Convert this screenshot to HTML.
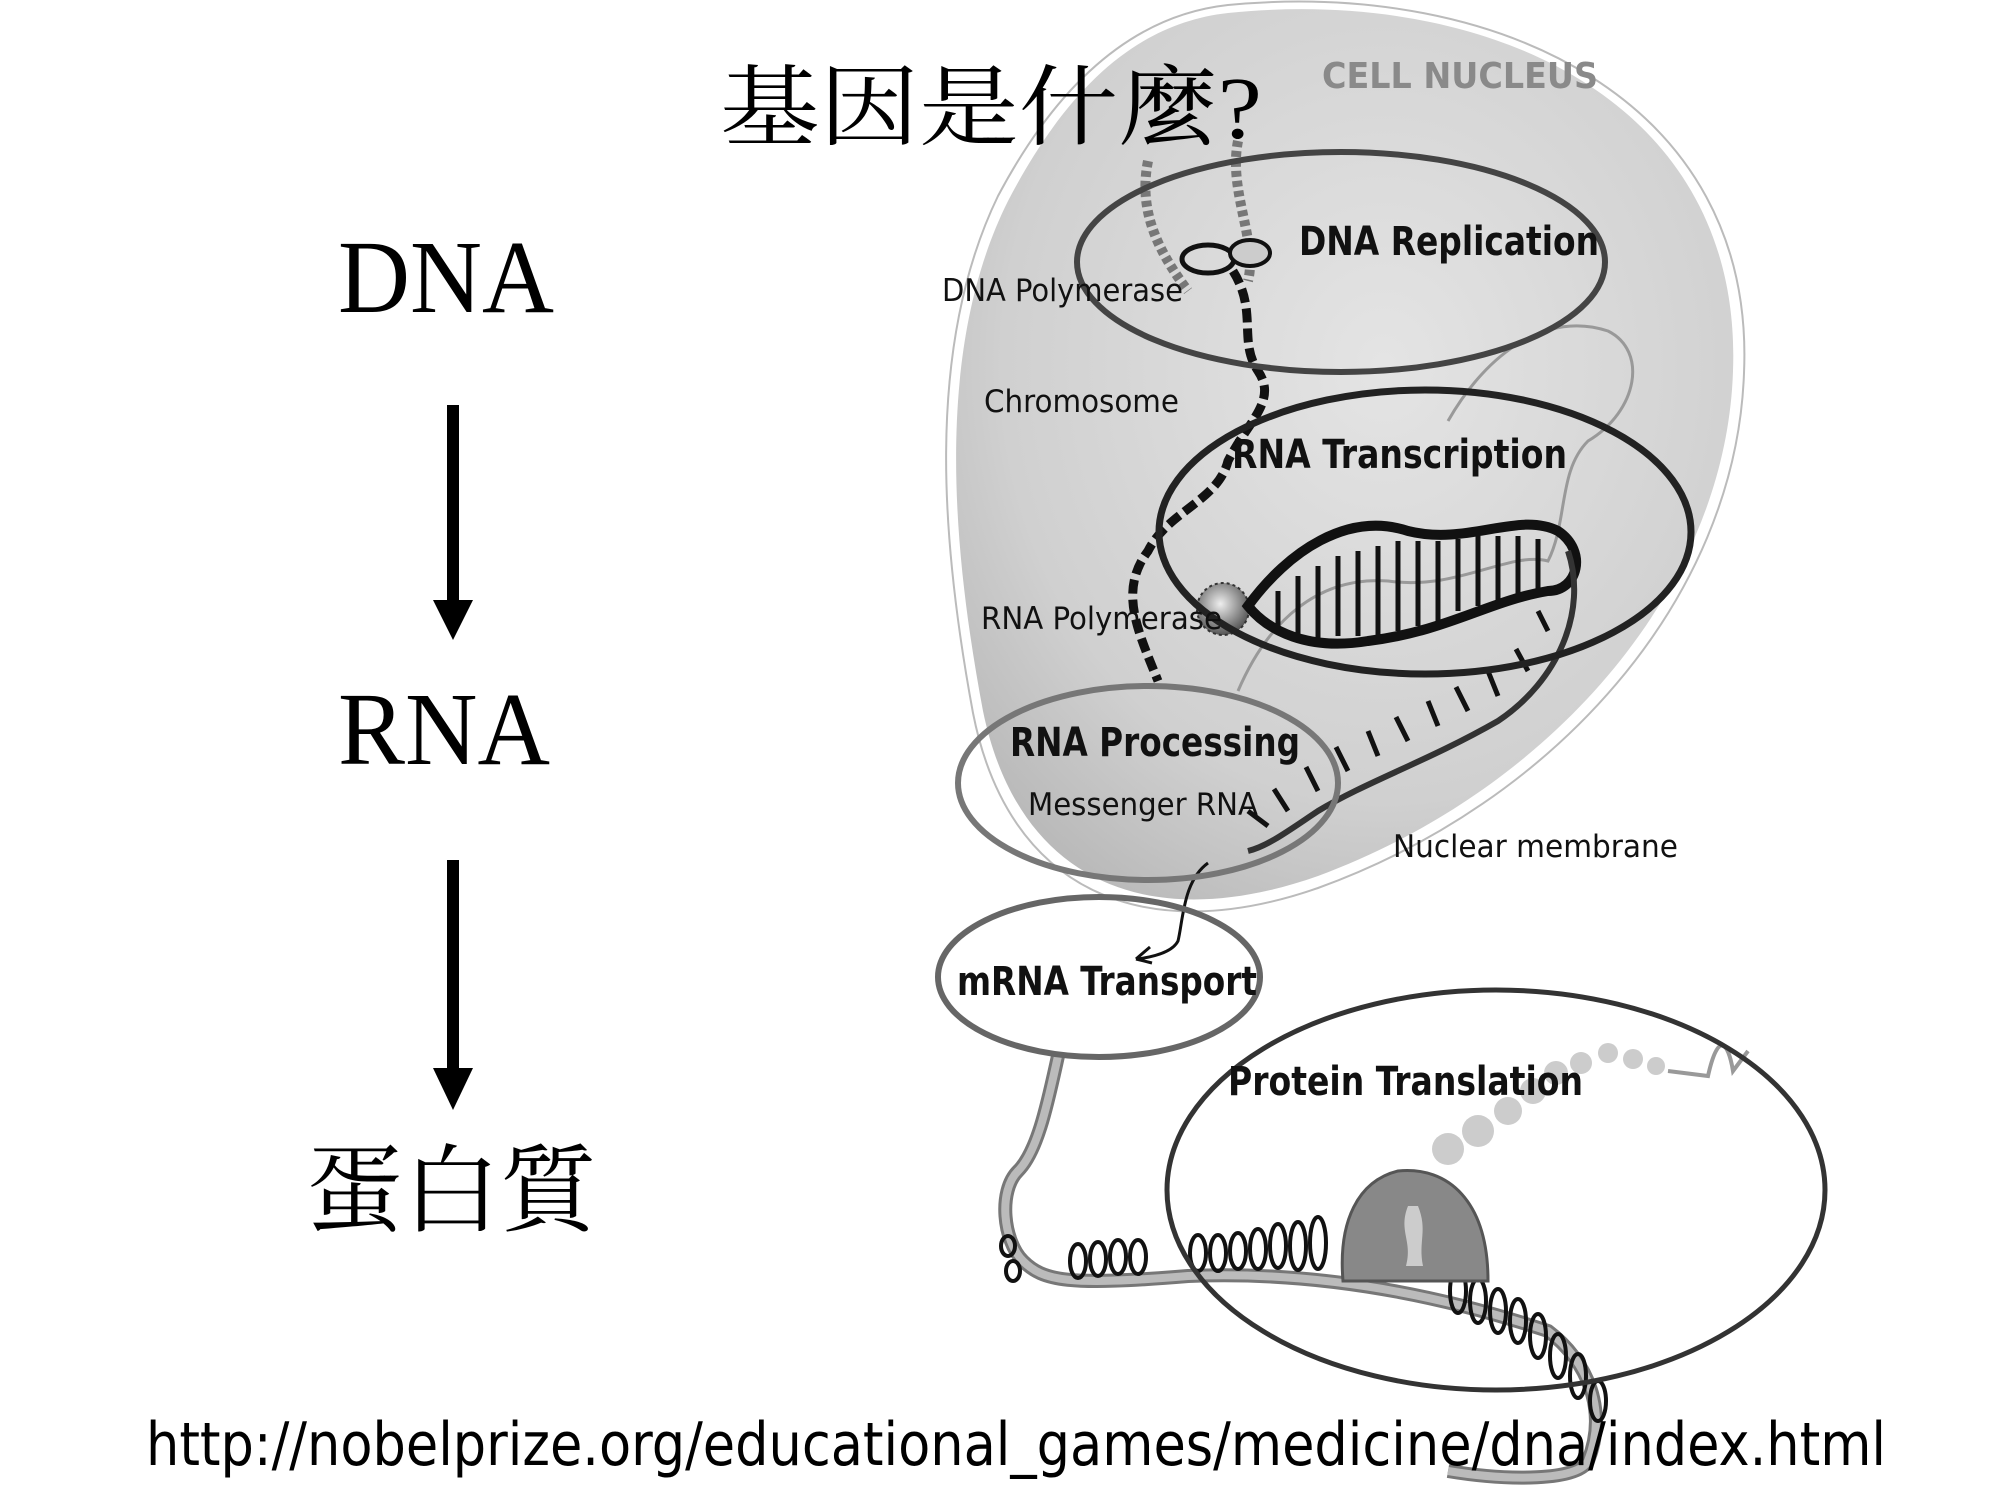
<!DOCTYPE html>
<html><head><meta charset="utf-8">
<style>
html,body{margin:0;padding:0;background:#fff;}
svg{display:block;}
.lab{font-family:"DejaVu Sans Condensed","DejaVu Sans","Liberation Sans",sans-serif;fill:#111;}
</style></head>
<body>
<svg width="2000" height="1500" viewBox="0 0 2000 1500" xmlns="http://www.w3.org/2000/svg">
<defs>
<radialGradient id="nuc" cx="0.55" cy="0.4" r="0.7">
<stop offset="0" stop-color="#e4e4e4"/><stop offset="0.7" stop-color="#d0d0d0"/><stop offset="1" stop-color="#b8b8b8"/>
</radialGradient>
<radialGradient id="pol" cx="0.45" cy="0.4" r="0.6">
<stop offset="0" stop-color="#eee"/><stop offset="1" stop-color="#555"/>
</radialGradient>
</defs>
<g transform="translate(-12,-9)">
<!-- nucleus -->
<path d="M1240,22 C1500,-5 1755,110 1745,380 C1738,600 1560,800 1330,885 C1160,945 1030,890 995,720 C965,560 945,360 1020,210 C1080,95 1150,32 1240,22 Z" fill="url(#nuc)"/>
<path d="M1240,14 C1510,-12 1768,110 1756,382 C1748,610 1565,812 1330,897 C1155,958 1020,900 985,722 C955,560 935,360 1010,205 C1072,88 1148,24 1240,14 Z" fill="none" stroke="#fff" stroke-width="6" stroke-dasharray="180 14"/>
<path d="M1240,14 C1510,-12 1768,110 1756,382 C1748,610 1565,812 1330,897 C1155,958 1020,900 985,722 C955,560 935,360 1010,205 C1072,88 1148,24 1240,14 Z" fill="none" stroke="#bbb" stroke-width="2"/>

<path d="M1460,430 C1500,360 1560,320 1620,340 C1660,360 1650,420 1600,450 C1570,480 1580,530 1560,570 C1520,560 1470,600 1400,590 C1330,585 1280,630 1250,700" fill="none" stroke="#999" stroke-width="3"/>
<path d="M1160,170 C1150,220 1170,260 1200,300 M1250,150 C1240,200 1270,250 1260,290" fill="none" stroke="#777" stroke-width="10" stroke-dasharray="6 4"/>
<ellipse cx="1220" cy="268" rx="26" ry="14" fill="none" stroke="#111" stroke-width="5"/>
<ellipse cx="1262" cy="262" rx="20" ry="13" fill="#ccc" stroke="#111" stroke-width="4"/>
<path d="M1245,280 C1270,320 1250,350 1270,380 C1290,410 1260,430 1240,470 C1230,510 1180,520 1160,560 C1130,600 1150,640 1170,690" fill="none" stroke="#111" stroke-width="9" stroke-dasharray="14 6"/>
<circle cx="1235" cy="618" r="26" fill="url(#pol)" stroke="#333" stroke-width="2" stroke-dasharray="3 3"/>
<path d="M1260,615 C1300,560 1360,520 1420,540 C1480,555 1530,520 1570,540 C1600,560 1590,600 1560,600 C1500,610 1460,640 1380,650 C1320,660 1280,640 1260,615 Z" fill="none" stroke="#111" stroke-width="10"/>
<path d="M1290,600 L1290,640 M1310,585 L1310,645 M1330,575 L1330,650 M1350,565 L1350,645 M1370,560 L1370,645 M1390,555 L1390,645 M1410,550 L1410,640 M1430,550 L1430,635 M1450,550 L1450,630 M1470,548 L1470,620 M1490,545 L1490,615 M1510,545 L1510,610 M1530,545 L1530,605 M1550,548 L1550,600" stroke="#111" stroke-width="5"/>
<path d="M1580,560 C1600,620 1570,690 1510,730 C1440,770 1380,790 1330,820 C1300,840 1280,855 1260,860" fill="none" stroke="#333" stroke-width="6"/>
<path d="M1560,640 l-10,-20 M1540,680 l-12,-22 M1510,705 l-10,-25 M1480,720 l-12,-24 M1450,735 l-10,-25 M1420,750 l-12,-24 M1390,765 l-10,-25 M1360,780 l-12,-24 M1330,800 l-12,-24 M1300,820 l-14,-22 M1280,835 l-20,-15" stroke="#111" stroke-width="5" fill="none"/>
<path d="M1220,872 C1195,890 1195,930 1190,950 C1185,960 1170,965 1150,968" fill="none" stroke="#111" stroke-width="3"/>
<path d="M1148,968 l14,-12 M1148,968 l16,4" stroke="#111" stroke-width="3"/>

<path d="M1070,1065 C1060,1110 1050,1160 1030,1180 C1010,1200 1015,1250 1035,1270 C1055,1290 1080,1295 1200,1285 C1320,1280 1440,1300 1560,1340 C1600,1370 1620,1420 1600,1470 C1590,1490 1520,1490 1460,1480" fill="none" stroke="#777" stroke-width="14"/>
<path d="M1070,1065 C1060,1110 1050,1160 1030,1180 C1010,1200 1015,1250 1035,1270 C1055,1290 1080,1295 1200,1285 C1320,1280 1440,1300 1560,1340 C1600,1370 1620,1420 1600,1470 C1590,1490 1520,1490 1460,1480" fill="none" stroke="#bbb" stroke-width="8"/>
<g fill="none" stroke="#111" stroke-width="4">
<ellipse cx="1090" cy="1270" rx="8" ry="17"/><ellipse cx="1110" cy="1268" rx="8" ry="17"/><ellipse cx="1130" cy="1266" rx="8" ry="17"/><ellipse cx="1150" cy="1266" rx="8" ry="17"/>
<ellipse cx="1210" cy="1262" rx="8" ry="18"/><ellipse cx="1230" cy="1262" rx="8" ry="18"/><ellipse cx="1250" cy="1260" rx="8" ry="18"/><ellipse cx="1270" cy="1258" rx="8" ry="20"/><ellipse cx="1290" cy="1255" rx="8" ry="22"/><ellipse cx="1310" cy="1255" rx="8" ry="24"/><ellipse cx="1330" cy="1252" rx="8" ry="26"/>
<ellipse cx="1470" cy="1300" rx="8" ry="22"/><ellipse cx="1490" cy="1310" rx="8" ry="22"/><ellipse cx="1510" cy="1320" rx="8" ry="22"/><ellipse cx="1530" cy="1330" rx="8" ry="22"/><ellipse cx="1550" cy="1345" rx="8" ry="22"/><ellipse cx="1570" cy="1365" rx="8" ry="22"/><ellipse cx="1590" cy="1385" rx="8" ry="22"/><ellipse cx="1610" cy="1410" rx="8" ry="20"/>
<ellipse cx="1020" cy="1255" rx="7" ry="10"/><ellipse cx="1025" cy="1280" rx="7" ry="10"/>
</g>
<path d="M1355,1290 C1350,1230 1370,1190 1410,1180 C1460,1175 1500,1210 1500,1290 Z" fill="#888" stroke="#555" stroke-width="3"/>
<path d="M1420,1215 C1410,1240 1425,1250 1418,1275 L1435,1275 C1430,1250 1440,1240 1430,1215 Z" fill="#ccc"/>
<g fill="#ccc">
<circle cx="1460" cy="1158" r="16"/><circle cx="1490" cy="1140" r="16"/><circle cx="1520" cy="1120" r="14"/><circle cx="1545" cy="1100" r="13"/><circle cx="1568" cy="1082" r="12"/><circle cx="1593" cy="1072" r="11"/><circle cx="1620" cy="1062" r="10"/><circle cx="1645" cy="1068" r="10"/><circle cx="1668" cy="1075" r="9"/>
</g>
<path d="M1680,1080 L1720,1085 C1730,1040 1740,1050 1745,1080 L1760,1060" fill="none" stroke="#999" stroke-width="4"/>

<ellipse cx="1353" cy="271" rx="264" ry="110" fill="none" stroke="#444" stroke-width="6"/>
<ellipse cx="1437" cy="541" rx="266" ry="142" fill="none" stroke="#222" stroke-width="7"/>
<ellipse cx="1160" cy="792" rx="190" ry="97" fill="none" stroke="#777" stroke-width="6"/>
<ellipse cx="1111" cy="986" rx="161" ry="80" fill="none" stroke="#666" stroke-width="6"/>
<ellipse cx="1508" cy="1199" rx="329" ry="200" fill="none" stroke="#333" stroke-width="5"/>

<text class="lab" x="1334" y="97" font-size="36" font-weight="bold" style="fill:#8a8a8a" textLength="276" lengthAdjust="spacingAndGlyphs">CELL NUCLEUS</text>
<text class="lab" x="1311" y="264" font-size="40" font-weight="bold" textLength="300" lengthAdjust="spacingAndGlyphs">DNA Replication</text>
<text class="lab" x="954" y="310" font-size="31" textLength="241" lengthAdjust="spacingAndGlyphs">DNA Polymerase</text>
<text class="lab" x="996" y="421" font-size="31" textLength="195" lengthAdjust="spacingAndGlyphs">Chromosome</text>
<text class="lab" x="1244" y="477" font-size="40" font-weight="bold" textLength="335" lengthAdjust="spacingAndGlyphs">RNA Transcription</text>
<text class="lab" x="993" y="638" font-size="31" textLength="241" lengthAdjust="spacingAndGlyphs">RNA Polymerase</text>
<text class="lab" x="1022" y="765" font-size="40" font-weight="bold" textLength="290" lengthAdjust="spacingAndGlyphs">RNA Processing</text>
<text class="lab" x="1040" y="824" font-size="31" textLength="230" lengthAdjust="spacingAndGlyphs">Messenger RNA</text>
<text class="lab" x="1405" y="866" font-size="31" textLength="285" lengthAdjust="spacingAndGlyphs">Nuclear membrane</text>
<text class="lab" x="969" y="1004" font-size="40" font-weight="bold" textLength="300" lengthAdjust="spacingAndGlyphs">mRNA Transport</text>
<text class="lab" x="1240" y="1104" font-size="40" font-weight="bold" textLength="355" lengthAdjust="spacingAndGlyphs">Protein Translation</text>
</g>

<text x="720" y="138" font-family="'Liberation Serif','Noto Serif CJK SC','Noto Sans CJK TC',serif" font-size="88" textLength="542" lengthAdjust="spacingAndGlyphs">基因是什麼?</text>
<text x="338" y="312" font-family="'Liberation Serif',serif" font-size="104" textLength="216" lengthAdjust="spacingAndGlyphs">DNA</text>
<rect x="447" y="405" width="12" height="200" fill="#000"/>
<polygon points="433,600 473,600 453,640" fill="#000"/>
<text x="338" y="764" font-family="'Liberation Serif',serif" font-size="104" textLength="212" lengthAdjust="spacingAndGlyphs">RNA</text>
<rect x="447" y="860" width="12" height="212" fill="#000"/>
<polygon points="433,1068 473,1068 453,1110" fill="#000"/>
<text x="306" y="1224" font-family="'Liberation Serif','Noto Serif CJK SC','Noto Sans CJK TC',serif" font-size="96" textLength="291" lengthAdjust="spacingAndGlyphs">蛋白質</text>
<text x="146" y="1465" font-family="'DejaVu Sans Condensed','DejaVu Sans','Liberation Sans',sans-serif" font-size="60" textLength="1740" lengthAdjust="spacingAndGlyphs">http://nobelprize.org/educational_games/medicine/dna/index.html</text>
</svg>
</body></html>
